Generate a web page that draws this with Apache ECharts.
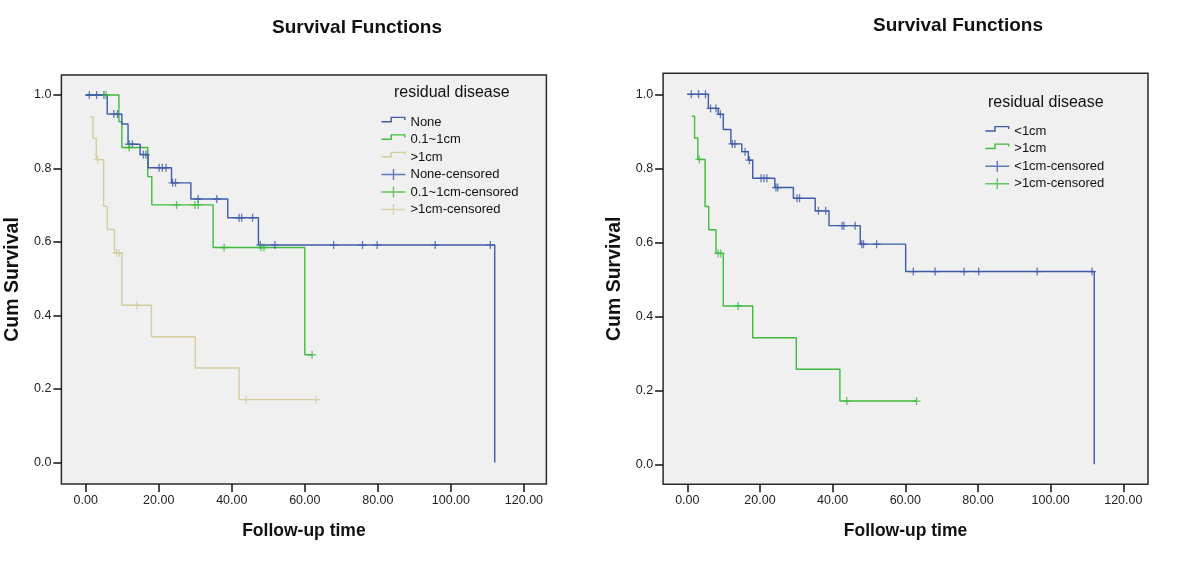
<!DOCTYPE html>
<html>
<head>
<meta charset="utf-8">
<title>Survival Functions</title>
<script src="https://cdn.jsdelivr.net/npm/echarts@6/dist/echarts.min.js"></script>
<style>
  body { margin: 0; background: #fff; }
  .wrap { display: flex; }
  .chart { width: 600px; height: 584px; }
</style>
</head>
<body>
<div class="wrap">
  <div id="chartLeft" class="chart"></div>
  <div id="chartRight" class="chart"></div>
</div>
<script>
// left chart: None / 0.1~1cm / >1cm
const noneTime = [0, 5.9, 9.9, 11.6, 14.9, 17.1, 23.5, 28.8, 38.9, 47.3, 112]
const noneSurv = [1, 0.948, 0.921, 0.866, 0.838, 0.802, 0.761, 0.717, 0.666, 0.592, 0]
const noneCens = [1.0, 3.0, 5.0, 7.7, 8.7, 11.9, 12.8, 15.8, 16.5, 20.1, 21.0, 22.0, 23.8, 24.6,
  30.8, 35.9, 42.0, 42.7, 45.7, 47.8, 51.8, 67.9, 75.8, 79.8, 95.7, 110.8]

const midTime = [0, 9.1, 9.9, 17.0, 18.1, 34.9, 60.0, 62.0]
const midSurv = [1, 0.927, 0.857, 0.778, 0.701, 0.585, 0.293, 0.293]
const midCens = [5.6, 11.9, 24.9, 29.9, 30.8, 37.9, 48.0, 48.8, 62.0]

// >1cm is the same group in both charts
const gtTime = [1.2, 2.0, 2.9, 4.9, 5.9, 7.9, 9.9, 18.0, 30.0, 42.0, 63.1]
const gtSurv = [0.941, 0.882, 0.824, 0.697, 0.634, 0.570, 0.428, 0.342, 0.257, 0.171, 0.171]
const gtCens = [3.3, 8.5, 9.2, 14.0, 43.9, 63.1]

// right chart: <1cm
const ltTime = [0, 5.8, 8.5, 9.9, 12.0, 15.0, 16.8, 18.0, 24.1, 29.2, 35.2, 39.0, 47.6, 60.1, 112]
const ltSurv = [1, 0.962, 0.946, 0.905, 0.866, 0.845, 0.822, 0.773, 0.748, 0.719, 0.685, 0.645, 0.595, 0.521, 0]
const ltCens = [1.1, 3.1, 5.0, 6.4, 7.9, 9.1, 12.4, 13.1, 15.9, 17.1, 20.3, 21.1, 21.9, 24.4, 24.9,
  30.2, 30.9, 36.1, 38.1, 42.6, 43.1, 46.2, 48.0, 48.5, 52.1, 62.2, 68.2, 76.2, 80.2, 96.3, 111.4]

const xTicks = [0, 20, 40, 60, 80, 100, 120]
const yTicks = [0, 0.2, 0.4, 0.6, 0.8, 1.0]

const BLUE = '#3f5ba9'
const GREEN = '#3fba3f'
const TAN = '#d5cd9e'
const FONT = 'Liberation Sans, Arial, Helvetica, sans-serif'

// legend icons (tiny dot at the bottom keeps the box 11px high)
const stepIcon = 'path://M0,4.8 H9 V0.4 H24 V3.6 H22.6 V1.8 H10.4 V6.2 H0 Z M0,11 H0.01 V10.99 H0 Z'
const crossIcon = 'path://M0,4.8 H24 V6.2 H0 Z M11.3,0 H12.7 V11 H11.3 Z'
const markIcon = 'path://M0,3.35 H8 V4.65 H0 Z M3.35,0 H4.65 V8 H3.35 Z'

function survAt(times, surv, t) {
  let s = surv[0]
  for (let i = 0; i < times.length; i++) {
    if (times[i] <= t) s = surv[i]
  }
  return s
}

function stepSeries(name, color, times, surv, z) {
  return {
    name, type: 'line', step: 'end', symbol: 'none', color, z, silent: true,
    lineStyle: { width: 1.4, color },
    data: times.map((t, i) => [t, surv[i]])
  }
}

function censSeries(name, color, cens, times, surv) {
  return {
    name, type: 'scatter', symbol: markIcon, symbolSize: 8, color, z: 5, silent: true,
    itemStyle: { color },
    data: cens.map(t => [t, survAt(times, surv, t)])
  }
}

function legendItem(name, color, icon) {
  return { name, icon, itemStyle: { color } }
}

function buildOption(cfg) {
  return {
    animation: false,
    title: [
      {
        text: 'Survival Functions', left: cfg.titleX, top: cfg.titleY, textAlign: 'center', padding: 0,
        textStyle: { fontFamily: FONT, fontSize: 19, fontWeight: 'bold', color: '#111' }
      },
      {
        text: 'residual disease', left: cfg.legTitleX, top: cfg.legTitleY, padding: 0,
        textStyle: { fontFamily: FONT, fontSize: 16, fontWeight: 'normal', color: '#111' }
      }
    ],
    legend: {
      orient: 'vertical', left: cfg.legX, top: cfg.legY, padding: 0,
      itemWidth: 24, itemHeight: 11, itemGap: 4.5, selectedMode: false,
      textStyle: { fontFamily: FONT, fontSize: 13, color: '#111' },
      data: cfg.legend
    },
    grid: {
      left: cfg.grid[0], top: cfg.grid[1], width: cfg.grid[2], height: cfg.grid[3],
      show: true, backgroundColor: '#f0f0f0', borderColor: '#2a2a2a', borderWidth: 1.5,
      outerBoundsMode: 'none'
    },
    xAxis: {
      type: 'value', min: cfg.xRange[0], max: cfg.xRange[1],
      name: 'Follow-up time', nameLocation: 'middle', nameGap: 38,
      nameTextStyle: { fontFamily: FONT, fontSize: 17.5, fontWeight: 'bold', color: '#111' },
      axisLine: { show: false, onZero: false },
      axisTick: { customValues: xTicks, length: 8, lineStyle: { color: '#111', width: 1.5 } },
      axisLabel: {
        customValues: xTicks, margin: 10, fontFamily: FONT, fontSize: 12.5, color: '#222',
        formatter: v => v.toFixed(2)
      },
      splitLine: { show: false }
    },
    yAxis: {
      type: 'value', min: cfg.yRange[0], max: cfg.yRange[1],
      name: 'Cum Survival', nameLocation: 'middle', nameGap: cfg.yNameGap,
      nameTextStyle: { fontFamily: FONT, fontSize: 19.5, fontWeight: 'bold', color: '#111' },
      axisLine: { show: false, onZero: false },
      axisTick: { customValues: yTicks, length: 8, lineStyle: { color: '#111', width: 1.5 } },
      axisLabel: {
        customValues: yTicks, margin: 10, fontFamily: FONT, fontSize: 12.5, color: '#222',
        formatter: v => v.toFixed(1)
      },
      splitLine: { show: false }
    },
    series: cfg.series
  }
}

const leftChart = echarts.init(document.getElementById('chartLeft'))
leftChart.setOption(buildOption({
  titleX: 357, titleY: 18,
  legTitleX: 394, legTitleY: 85,
  legX: 381.5, legY: 115.5,
  grid: [61.4, 75, 485, 409],
  xRange: [-6.65, 126.15],
  yRange: [-0.0585, 1.0544],
  yNameGap: 33,
  legend: [
    legendItem('None', BLUE, stepIcon),
    legendItem('0.1~1cm', GREEN, stepIcon),
    legendItem('>1cm', TAN, stepIcon),
    legendItem('None-censored', BLUE, crossIcon),
    legendItem('0.1~1cm-censored', GREEN, crossIcon),
    legendItem('>1cm-censored', TAN, crossIcon)
  ],
  series: [
    stepSeries('>1cm', TAN, gtTime, gtSurv, 2),
    stepSeries('0.1~1cm', GREEN, midTime, midSurv, 2),
    stepSeries('None', BLUE, noneTime, noneSurv, 3),
    censSeries('None-censored', BLUE, noneCens, noneTime, noneSurv),
    censSeries('0.1~1cm-censored', GREEN, midCens, midTime, midSurv),
    censSeries('>1cm-censored', TAN, gtCens, gtTime, gtSurv)
  ]
}))

const rightChart = echarts.init(document.getElementById('chartRight'))
rightChart.setOption(buildOption({
  titleX: 358, titleY: 16,
  legTitleX: 388, legTitleY: 95,
  legX: 385.3, legY: 124.7,
  grid: [63.1, 73.3, 484.9, 411],
  xRange: [-6.66, 126.8],
  yRange: [-0.054, 1.0568],
  yNameGap: 31,
  legend: [
    legendItem('<1cm', BLUE, stepIcon),
    legendItem('>1cm', GREEN, stepIcon),
    legendItem('<1cm-censored', BLUE, crossIcon),
    legendItem('>1cm-censored', GREEN, crossIcon)
  ],
  series: [
    stepSeries('>1cm', GREEN, gtTime, gtSurv, 2),
    stepSeries('<1cm', BLUE, ltTime, ltSurv, 3),
    censSeries('<1cm-censored', BLUE, ltCens, ltTime, ltSurv),
    censSeries('>1cm-censored', GREEN, gtCens, gtTime, gtSurv)
  ]
}))
</script>
</body>
</html>
